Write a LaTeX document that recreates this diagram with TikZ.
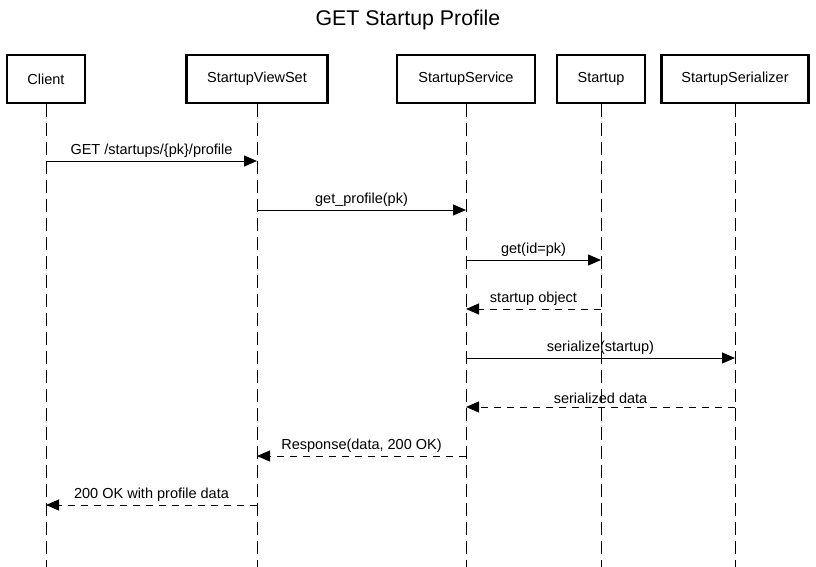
\documentclass[tikz,border=0pt]{standalone}
\usepackage{fontspec}
\setmainfont{Liberation Sans}
\usetikzlibrary{arrows.meta}

\tikzset{
actor/.style={draw,line width=2.4pt,minimum height=48pt,inner sep=0pt,font=\fontsize{14.5}{17}\selectfont},
lifeline/.style={line width=1pt,dash pattern=on 13pt off 6pt},
call/.style={line width=1pt,-{Triangle[length=13pt,width=11pt]}},
reply/.style={call,dash pattern=on 7pt off 6pt},
msg/.style={above,font=\fontsize{14.5}{17}\selectfont}
}

\begin{document}
\begin{tikzpicture}[x=1pt,y=-1pt,color=black]

\useasboundingbox (0,0) rectangle (816,567);

\node (title) at (408,20)[font=\fontsize{21.3}{25}\selectfont]{GET Startup Profile};

\node (client) at (46,79)[actor,minimum width=78pt]{Client};
\node (viewset) at (257,79)[actor,minimum width=141pt]{StartupViewSet};
\node (service) at (466,79)[actor,minimum width=138pt]{StartupService};
\node (startup) at (601,79)[actor,minimum width=88pt]{Startup};
\node (serializer) at (735,79)[actor,minimum width=147pt]{StartupSerializer};

\coordinate (bottom) at (0,567);

\foreach \n in {client,viewset,service,startup,serializer}
{
\draw[lifeline] (\n.south) -- (\n.south |- bottom);
}

% calls
\foreach \a/\b/\y/\t in {client/viewset/161/{GET /startups/\{pk\}/profile},
  viewset/service/210/{get\_profile(pk)},
  service/startup/260/{get(id=pk)},
  service/serializer/358/{serialize(startup)}}
{
\draw[call] (\a |- 0,\y) -- node[msg]{\t} (\b |- 0,\y);
}

% replies
\foreach \a/\b/\y/\t in {startup/service/309/{startup object},
  serializer/service/407/{serialized data},
  service/viewset/456/{Response(data, 200 OK)},
  viewset/client/505/{200 OK with profile data}}
{
\draw[reply] (\a |- 0,\y) -- node[msg]{\t} (\b |- 0,\y);
}

\end{tikzpicture}
\end{document}
